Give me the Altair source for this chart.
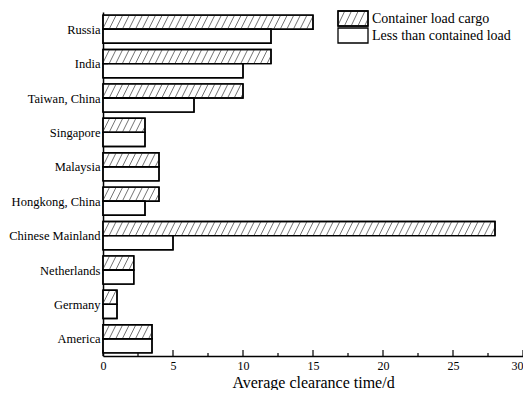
import altair as alt
import pandas as pd

categories = ["Russia", "India", "Taiwan, China", "Singapore", "Malaysia",
              "Hongkong, China", "Chinese Mainland", "Netherlands", "Germany", "America"]
container_load = [15, 12, 10, 3, 4, 4, 28, 2.2, 1, 3.5]
less_than_load = [12, 10, 6.5, 3, 4, 3, 5, 2.2, 1, 3.5]
series_names = ["Container load cargo", "Less than contained load"]
x_major = [0, 5, 10, 15, 20, 25, 30]
x_minor = [2.5, 7.5, 12.5, 17.5, 22.5, 27.5]

rows = []
for i, c in enumerate(categories):
    rows.append(dict(category=c, idx=i, series=series_names[0], value=container_load[i]))
    rows.append(dict(category=c, idx=i, series=series_names[1], value=less_than_load[i]))
df = pd.DataFrame(rows)

H = 0.41   # bar thickness in band units
SP = 0.47  # hatch spacing in days
D = 0.5    # hatch slant in days

FONT = "Liberation Serif"
W, HT = 420, 344


# hatch lines for the legend swatch (symbol unit = 7.5px with size 225; swatch 30x15 px)
def hatch_lines_path():
    parts = []
    sp, d = 0.9, 0.95
    x0 = -2 - d
    while x0 < 2:
        xa, xb = max(x0, -2), min(x0 + d, 2)
        if xb > xa:
            ya = 1 - 2 * (xa - x0) / d
            yb = 1 - 2 * (xb - x0) / d
            parts.append(f"M{xa:.3f},{ya:.3f}L{xb:.3f},{yb:.3f}")
        x0 += sp
    return "".join(parts)


label_expr = "[" + ",".join("'" + c + "'" for c in categories) + "][datum.value]"

xscale = alt.Scale(domain=[0, 30], nice=False, zero=False)
yscale = alt.Scale(domain=[-0.5, 9.5], reverse=True, nice=False, zero=False)

xaxis = alt.Axis(values=x_major, ticks=False, grid=False, title="Average clearance time/d",
                 labelFont=FONT, labelFontSize=12, labelColor="black", labelPadding=4,
                 labelAlign={"condition": {"test": "datum.value == 30", "value": "right"},
                             "value": "center"},
                 titleFont=FONT, titleFontSize=16, titleFontWeight="normal", titleColor="black",
                 titleBaseline="alphabetic", titleY=31,
                 domainColor="black", domainWidth=1.5, labelFlush=False)
yaxis = alt.Axis(values=list(range(len(categories))), labelExpr=label_expr, ticks=False,
                 grid=False, title=None, labelFont=FONT, labelFontSize=12.5, labelColor="black",
                 labelPadding=3, domainColor="black", domainWidth=1.5)

base = alt.Chart(df).transform_calculate(
    y0=f"datum.series == '{series_names[0]}' ? datum.idx - {H} : datum.idx",
    zero="0",
).transform_calculate(
    y1=f"datum.y0 + {H}",
)

bars = base.mark_rect(fill="white", stroke="black", strokeWidth=1.4).encode(
    x=alt.X("zero:Q", scale=xscale, axis=xaxis),
    x2="value:Q",
    y=alt.Y("y0:Q", scale=yscale, axis=yaxis),
    y2="y1:Q",
)

hatch = alt.Chart(df).transform_filter(
    f"datum.series == '{series_names[0]}'"
).transform_calculate(
    k="sequence(0, 80)"
).transform_flatten(["k"]).transform_calculate(
    x0=f"datum.k * {SP} - {D}"
).transform_filter("datum.x0 < datum.value").transform_calculate(
    xa="max(datum.x0, 0)",
    xb=f"min(datum.x0 + {D}, datum.value)",
).transform_calculate(
    ya=f"datum.idx - {H} * (datum.xa - datum.x0) / {D}",
    yb=f"datum.idx - {H} * (datum.xb - datum.x0) / {D}",
).transform_filter("datum.xb > datum.xa").mark_rule(color="#444444", strokeWidth=0.75).encode(
    x=alt.X("xa:Q", scale=xscale, axis=xaxis),
    x2="xb:Q",
    y=alt.Y("ya:Q", scale=yscale, axis=yaxis),
    y2="yb:Q",
)

outlines = base.mark_rect(fill="white", fillOpacity=0, stroke="black", strokeWidth=1.4).encode(
    x=alt.X("zero:Q", scale=xscale, axis=xaxis),
    x2="value:Q",
    y=alt.Y("y0:Q", scale=yscale, axis=yaxis),
    y2="y1:Q",
)

major_df = pd.DataFrame({"t": x_major})
minor_df = pd.DataFrame({"t": x_minor})
cat_df = pd.DataFrame({"idx": list(range(len(categories)))})

major_ticks = alt.Chart(major_df).mark_rule(color="black", strokeWidth=1.2).encode(
    x=alt.X("t:Q", scale=xscale, axis=xaxis), y=alt.value(HT), y2=alt.value(HT - 6))
minor_ticks = alt.Chart(minor_df).mark_rule(color="black", strokeWidth=1.2).encode(
    x=alt.X("t:Q", scale=xscale, axis=xaxis), y=alt.value(HT), y2=alt.value(HT - 3))
y_ticks = alt.Chart(cat_df).mark_rule(color="black", strokeWidth=1.2).encode(
    y=alt.Y("idx:Q", scale=yscale, axis=yaxis), x=alt.value(0), x2=alt.value(5))

# legend (drawn by hand: hatched swatch + plain swatch + labels)
LX, LY, SW, SH, GAP = 235, -1, 30, 15, 17
leg1 = pd.DataFrame({"label": [series_names[0]]})
leg2 = pd.DataFrame({"label": [series_names[1]]})

sw1 = alt.Chart(leg1).mark_rect(fill="white", stroke="black", strokeWidth=1.3).encode(
    x=alt.value(LX), x2=alt.value(LX + SW), y=alt.value(LY), y2=alt.value(LY + SH))
sw1_hatch = alt.Chart(leg1).mark_point(shape=hatch_lines_path(), size=225, filled=False,
                                       stroke="#444444", strokeWidth=0.75, opacity=1).encode(
    x=alt.value(LX + SW / 2), y=alt.value(LY + SH / 2))
sw1_out = alt.Chart(leg1).mark_rect(fill="white", fillOpacity=0, stroke="black",
                                    strokeWidth=1.3).encode(
    x=alt.value(LX), x2=alt.value(LX + SW), y=alt.value(LY), y2=alt.value(LY + SH))
sw2 = alt.Chart(leg2).mark_rect(fill="white", stroke="black", strokeWidth=1.3).encode(
    x=alt.value(LX), x2=alt.value(LX + SW), y=alt.value(LY + GAP), y2=alt.value(LY + GAP + SH))
txt1 = alt.Chart(leg1).mark_text(align="left", baseline="middle", font=FONT, fontSize=14,
                                 color="black").encode(
    text="label:N", x=alt.value(LX + SW + 4), y=alt.value(LY + SH / 2))
txt2 = alt.Chart(leg2).mark_text(align="left", baseline="middle", font=FONT, fontSize=14,
                                 color="black").encode(
    text="label:N", x=alt.value(LX + SW + 4), y=alt.value(LY + GAP + SH / 2))

chart = alt.layer(bars, hatch, outlines, major_ticks, minor_ticks, y_ticks,
                  sw1, sw1_hatch, sw1_out, sw2, txt1, txt2).properties(
    width=W, height=HT,
    autosize=alt.AutoSizeParams(type="none"),
    padding={"left": 95, "top": 4, "right": 0, "bottom": 34},
    background="white",
).configure(font=FONT).configure_axis(
    labelFont=FONT, titleFont=FONT
).configure_view(strokeWidth=0)

chart.save("out.html", embed_options={"renderer": "svg", "actions": False})
